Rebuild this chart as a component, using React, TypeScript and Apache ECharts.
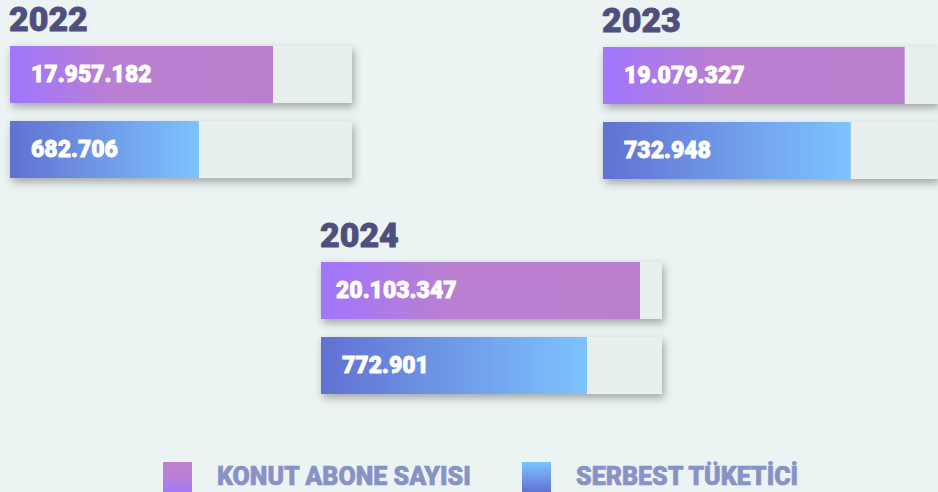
import React, { useEffect, useRef } from "react";
import * as echarts from "echarts";

const years = ["2022", "2023", "2024"];
const konutValues = [17957182, 19079327, 20103347];
const serbestValues = [682706, 732948, 772901];
const konutTrackMax = [23351000, 21185000, 21490000];
const serbestTrackMax = [1235400, 990800, 990800];
const seriesNames = ["KONUT ABONE SAYISI", "SERBEST TÜKETİCİ"];

const groupPos = [
  { x: 10, y: 46, w: 342 },
  { x: 603, y: 47, w: 342 },
  { x: 321, y: 262, w: 341 },
];
const legendPos = [163, 522];

const FONT = "Roboto";

const fmt = (v: number) => v.toLocaleString("de-DE");

const purpleGrad = () =>
  new echarts.graphic.LinearGradient(0, 0, 1, 0, [
    { offset: 0, color: "#A176FE" },
    { offset: 0.4, color: "#BA7FD1" },
    { offset: 1, color: "#B97FCF" },
  ]);
const blueGrad = () =>
  new echarts.graphic.LinearGradient(0, 0, 1, 0, [
    { offset: 0, color: "#6171D1" },
    { offset: 1, color: "#7DC3FF" },
  ]);
const legendGrads = () => [
  new echarts.graphic.LinearGradient(0, 0, 0, 1, [
    { offset: 0, color: "#BC80CC" },
    { offset: 0.5, color: "#B97FD4" },
    { offset: 1, color: "#A17AFA" },
  ]),
  new echarts.graphic.LinearGradient(0, 0, 0, 1, [
    { offset: 0, color: "#7CC3FF" },
    { offset: 1, color: "#6272D2" },
  ]),
];

export default function App() {
  const ref = useRef<HTMLDivElement>(null);
  useEffect(() => {
    document.body.style.margin = "0";
    document.body.style.background = "#ECF3F3";
    const chart = echarts.init(ref.current!, null, { renderer: "svg" });
    const grids: any[] = [];
    const xAxes: any[] = [];
    const yAxes: any[] = [];
    const series: any[] = [];
    const graphics: any[] = [];
    years.forEach((yr, i) => {
      const g = groupPos[i];
      graphics.push({
        type: "text",
        x: g.x - 1,
        y: g.y - 27,
        style: {
          text: yr,
          fill: "#4F4F7E",
          font: `900 34px ${FONT}`,
          textVerticalAlign: "middle",
          stroke: "#4F4F7E",
          lineWidth: 0.8,
        },
      });
      const rows = [
        { v: konutValues[i], max: konutTrackMax[i], top: g.y, color: purpleGrad(), name: seriesNames[0], dist: i === 2 ? 15 : 21 },
        { v: serbestValues[i], max: serbestTrackMax[i], top: g.y + 75, color: blueGrad(), name: seriesNames[1], dist: 21 },
      ];
      rows.forEach((r) => {
        const idx = grids.length;
        grids.push({ left: g.x, top: r.top, width: g.w, height: 57 });
        xAxes.push({ type: "value", gridIndex: idx, min: 0, max: r.max, show: false });
        yAxes.push({ type: "category", gridIndex: idx, data: [yr], show: false });
        series.push({
          type: "bar",
          name: r.name,
          xAxisIndex: idx,
          yAxisIndex: idx,
          barWidth: 57,
          data: [r.v],
          itemStyle: { color: r.color },
          showBackground: true,
          backgroundStyle: {
            color: "#E8EFEF",
            shadowBlur: 9,
            shadowColor: "rgba(0,0,0,0.32)",
            shadowOffsetX: 2,
            shadowOffsetY: 4,
          },
          label: {
            show: true,
            position: "insideLeft",
            distance: r.dist,
            formatter: (p: any) => fmt(p.value),
            color: "#FFFFFF",
            fontFamily: FONT,
            fontWeight: 900,
            fontSize: 23,
            textBorderColor: "#FFFFFF",
            textBorderWidth: 0.8,
          },
        });
      });
    });
    const lg = legendGrads();
    seriesNames.forEach((name, k) => {
      graphics.push({
        type: "rect",
        shape: { x: legendPos[k], y: 462, width: 29, height: 30 },
        style: { fill: lg[k] },
      });
      graphics.push({
        type: "text",
        x: legendPos[k] + 54,
        y: 476,
        style: {
          text: name,
          fill: "#8892C6",
          font: `900 25px ${FONT}`,
          textVerticalAlign: "middle",
          stroke: "#8892C6",
          lineWidth: 0.6,
        },
      });
    });
    chart.setOption({
      animation: false,
      backgroundColor: "#ECF3F3",
      grid: grids,
      xAxis: xAxes,
      yAxis: yAxes,
      series,
      graphic: graphics,
    });
    return () => chart.dispose();
  }, []);
  return <div ref={ref} style={{ width: 938, height: 492 }} />;
}
